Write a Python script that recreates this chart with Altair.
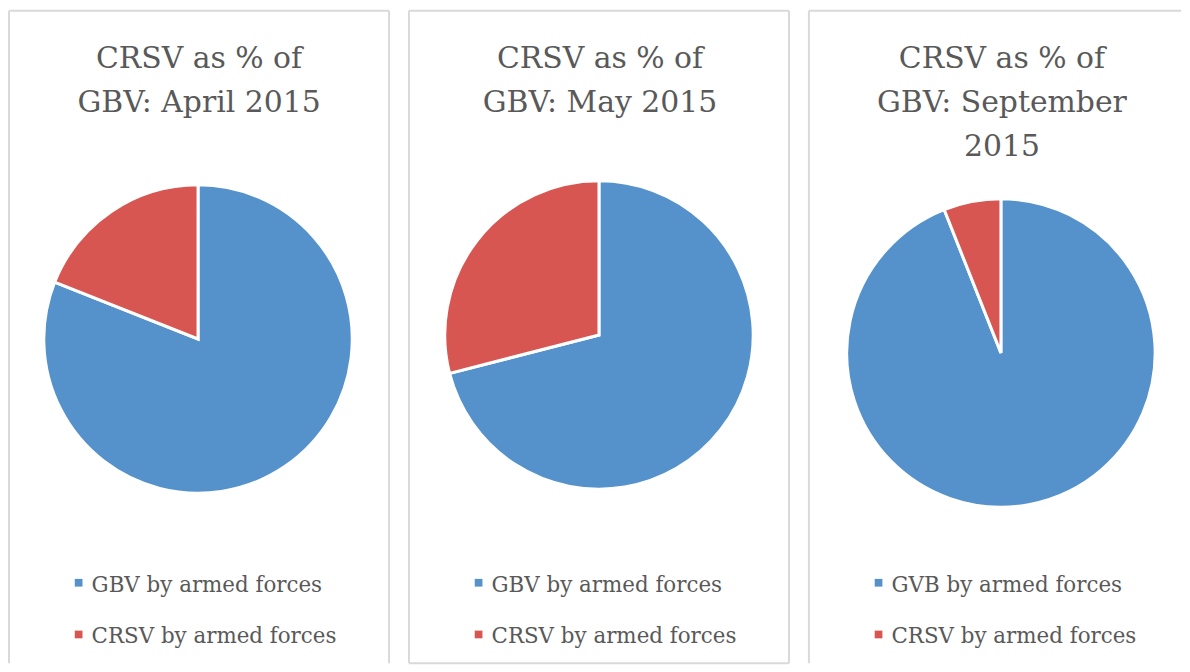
import altair as alt
import pandas as pd

# ---- data ----
titles = [
    "CRSV as % of\nGBV: April 2015",
    "CRSV as % of\nGBV: May 2015",
    "CRSV as % of\nGBV: September\n2015",
]
gbv_labels = ["GBV by armed forces", "GBV by armed forces", "GVB by armed forces"]
crsv_label = "CRSV by armed forces"
gbv_share = [81, 71, 94]
crsv_share = [19, 29, 6]

BLUE = "#5591CB"
RED = "#D75652"
TEXT = "#595959"
BORDER = "#D9D9D9"
FONT = "DejaVu Serif"

WIDTHS = [382, 382, 374]
H = 656
CX = [190, 191, 193]
CY = [330, 326, 344]
R = 155
# which sides of each panel frame are visible in the reference (left, top, right, bottom)
SIDES = [(1, 1, 1, 0), (1, 1, 1, 1), (1, 1, 0, 0)]

color_scale = alt.Scale(domain=["gbv", "crsv"], range=[BLUE, RED])
frame_df = pd.DataFrame({"k": [0]})

panels = []
for i in range(3):
    W = WIDTHS[i]
    df = pd.DataFrame({
        "key": ["gbv", "crsv"],
        "label": [gbv_labels[i], crsv_label],
        "share": [gbv_share[i], crsv_share[i]],
        "ord": [0, 1],
        "title": [titles[i], titles[i]],
    })
    base = alt.Chart(df)

    title = base.transform_filter(alt.datum.ord == 0).mark_text(
        font=FONT, fontSize=30, color=TEXT, align="center",
        baseline="alphabetic", lineBreak="\n", lineHeight=44,
    ).encode(text="title:N", x=alt.value(CX[i] + 1), y=alt.value(58))

    pie = base.mark_arc(radius=R, stroke="white", strokeWidth=3).encode(
        theta=alt.Theta("share:Q", stack=True),
        color=alt.Color("key:N", scale=color_scale, legend=None),
        order=alt.Order("ord:Q"),
        x=alt.value(CX[i]),
        y=alt.value(CY[i]),
    )

    legend_layers = []
    for j, (ty, sy) in enumerate([(584, 575), (636, 627)]):
        sub = base.transform_filter(alt.datum.ord == j)
        sq = sub.mark_square(size=60, opacity=1).encode(
            color=alt.Color("key:N", scale=color_scale, legend=None),
            x=alt.value(70), y=alt.value(sy),
        )
        tx = sub.mark_text(
            font=FONT, fontSize=21.5, color=TEXT, align="left", baseline="alphabetic"
        ).encode(text="label:N", x=alt.value(83), y=alt.value(ty))
        legend_layers += [sq, tx]

    frame = []
    left, top, right, bottom = SIDES[i]
    fb = alt.Chart(frame_df)
    if left:
        frame.append(fb.mark_rule(color=BORDER, strokeWidth=2).encode(
            x=alt.value(0), y=alt.value(0), y2=alt.value(H)))
    if right:
        frame.append(fb.mark_rule(color=BORDER, strokeWidth=2).encode(
            x=alt.value(W), y=alt.value(0), y2=alt.value(H)))
    if top:
        frame.append(fb.mark_rule(color=BORDER, strokeWidth=2).encode(
            x=alt.value(0), x2=alt.value(W), y=alt.value(0)))
    if bottom:
        frame.append(fb.mark_rule(color=BORDER, strokeWidth=2).encode(
            x=alt.value(0), x2=alt.value(W), y=alt.value(H)))

    panel = alt.layer(*frame, title, pie, *legend_layers).properties(width=W, height=H)
    panels.append(panel)

chart = alt.hconcat(*panels, spacing=18).properties(padding=0).configure_view(
    stroke=None
)

chart.save("out.html", embed_options={"renderer": "svg", "actions": False})
